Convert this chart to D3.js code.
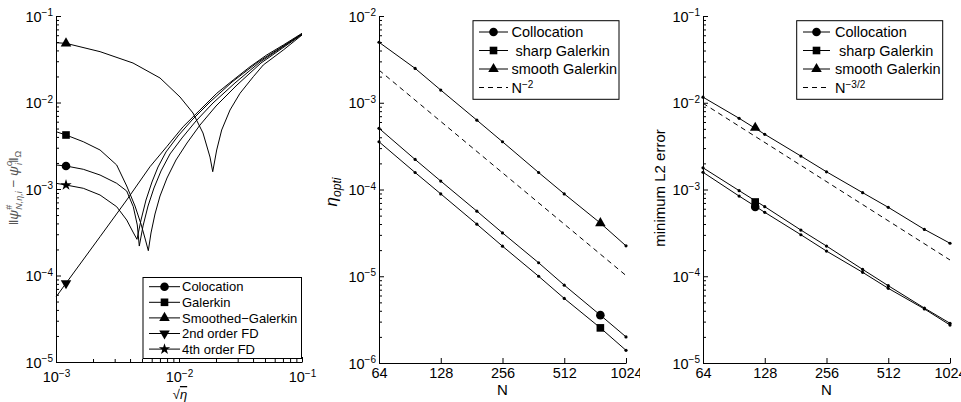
<!DOCTYPE html>
<html>
<head>
<meta charset="utf-8">
<script src="https://cdn.jsdelivr.net/npm/d3@7"></script>
<style>
    body { margin: 0; background: #fff; }
    text { font-family: "Liberation Sans", Arial, sans-serif; }
</style>
</head>
<body>
<div id="chart"></div>
<script>
"use strict";

// ---- left panel: error against sqrt(eta), pairs [sqrt(eta), error] ----
const colocation = [[1.0e-3, 1.895e-3], [1.206e-3, 1.845e-3], [1.667e-3, 1.69e-3], [2.281e-3, 1.451e-3],
    [3.114e-3, 1.164e-3], [3.757e-3, 9.48e-4], [4.25e-3, 6.24e-4], [4.58e-3, 3.84e-4], [4.755e-3, 2.19e-4],
    [5.10e-3, 3.74e-4], [5.60e-3, 6.36e-4], [6.26e-3, 1.027e-3], [7.14e-3, 1.615e-3], [8.45e-3, 2.54e-3],
    [1.058e-2, 3.89e-3], [1.374e-2, 6.11e-3], [1.89e-2, 9.87e-3], [2.85e-2, 1.68e-2], [4.56e-2, 2.94e-2],
    [0.1, 6.19e-2]];
const galerkin = [[1.0e-3, 4.60e-3], [1.206e-3, 4.21e-3], [1.667e-3, 3.52e-3], [2.281e-3, 2.825e-3],
    [3.114e-3, 1.895e-3], [3.757e-3, 1.083e-3], [4.387e-3, 6.36e-4], [4.91e-3, 3.94e-4], [5.34e-3, 2.57e-4],
    [5.63e-3, 1.935e-4], [5.92e-3, 3.10e-4], [6.38e-3, 5.14e-4], [7.01e-3, 8.30e-4], [7.99e-3, 1.34e-3],
    [9.45e-3, 2.164e-3], [1.161e-2, 3.40e-3], [1.482e-2, 5.49e-3], [2.0e-2, 9.11e-3], [2.96e-2, 1.593e-2],
    [4.64e-2, 2.86e-2], [0.1, 6.11e-2]];
const smoothed = [[1.0e-3, 4.91e-2], [1.206e-3, 4.83e-2], [2.281e-3, 3.87e-2], [4.227e-3, 2.86e-2],
    [7.01e-3, 1.92e-2], [1.019e-2, 1.158e-2], [1.30e-2, 7.56e-3], [1.567e-2, 4.44e-3], [1.787e-2, 2.34e-3],
    [1.88e-2, 1.585e-3], [2.025e-2, 2.825e-3], [2.223e-2, 4.81e-3], [2.598e-2, 8.19e-3], [3.133e-2, 1.278e-2],
    [4.018e-2, 1.987e-2], [4.844e-2, 2.714e-2], [7.05e-2, 4.045e-2], [0.1, 6.03e-2]];
const fd2 = [[1.0e-3, 5.64e-5], [1.206e-3, 8.13e-5], [2.281e-3, 2.81e-4], [3.757e-3, 7.46e-4],
    [5.81e-3, 1.81e-3], [7.94e-3, 3.08e-3], [1.08e-2, 5.25e-3], [1.48e-2, 8.19e-3], [2.03e-2, 1.28e-2],
    [2.76e-2, 1.82e-2], [3.78e-2, 2.59e-2], [5.16e-2, 3.54e-2], [7.05e-2, 4.62e-2], [0.1, 6.31e-2]];
const fd4 = [[1.0e-3, 1.164e-3], [1.206e-3, 1.112e-3], [1.667e-3, 1.019e-3], [2.281e-3, 8.52e-4],
    [3.114e-3, 6.24e-4], [3.757e-3, 4.38e-4], [4.227e-3, 3.18e-4], [4.555e-3, 2.62e-4], [4.91e-3, 4.38e-4],
    [5.39e-3, 7.46e-4], [6.03e-3, 1.205e-3], [6.75e-3, 1.796e-3], [7.84e-3, 2.68e-3], [9.81e-3, 4.10e-3],
    [1.275e-2, 6.27e-3], [1.787e-2, 1.013e-2], [2.70e-2, 1.726e-2], [4.39e-2, 2.94e-2], [0.1, 6.19e-2]];
const leftLabels = ["Colocation", "Galerkin", "Smoothed\u2212Galerkin", "2nd order FD", "4th order FD"];
const leftMarkerIndex = 1;

// ---- middle and right panels: values against N ----
const sizes = [64, 96, 128, 192, 256, 384, 512, 768, 1024];
const sizeTicks = [64, 128, 256, 512, 1024];

const etaColloc = [5.07e-4, 2.22e-4, 1.25e-4, 5.63e-5, 3.16e-5, 1.43e-5, 7.9e-6, 3.56e-6, 2.0e-6];
const etaSharp = [3.55e-4, 1.57e-4, 8.9e-5, 3.98e-5, 2.22e-5, 1.0e-5, 5.55e-6, 2.54e-6, 1.4e-6];
const etaSmooth = [4.98e-3, 2.49e-3, 1.40e-3, 6.3e-4, 3.55e-4, 1.57e-4, 8.9e-5, 4.1e-5, 2.24e-5];
const etaRefN = [64, 1024];
const etaRef = [2.38e-3, 1.02e-5];
const etaMarkerN = 768;
const etaMarkers = [3.56e-6, 2.54e-6, 4.1e-5];

const errColloc = [1.58e-3, 8.4e-4, 5.46e-4, 3.01e-4, 1.95e-4, 1.11e-4, 7.26e-5, 4.2e-5, 2.74e-5];
const errSharp = [1.78e-3, 9.7e-4, 6.34e-4, 3.41e-4, 2.23e-4, 1.2e-4, 7.78e-5, 4.3e-5, 2.87e-5];
const errSmooth = [1.16e-2, 6.62e-3, 4.33e-3, 2.43e-3, 1.6e-3, 9.2e-4, 6.23e-4, 3.47e-4, 2.4e-4];
const errRefN = [64, 1024];
const errRef = [9.86e-3, 1.54e-4];
const errMarkerN = 115;
const errMarkers = [6.3e-4, 7.18e-4, 5.15e-3];

const convLabels = ["Collocation", " sharp Galerkin", "smooth Galerkin"];

// marker shapes: circle, square, triangle, triangle down, star
const shapes = [
    { type: d3.symbolCircle, size: 58, rot: 0 },
    { type: d3.symbolSquare, size: 58, rot: 0 },
    { type: d3.symbolTriangle, size: 48, rot: 0 },
    { type: d3.symbolTriangle, size: 48, rot: 180 },
    { type: d3.symbolStar, size: 40, rot: 0 }
];

function drawMarker(g, shape, cx, cy)
{
    g.append("path")
        .attr("d", d3.symbol().type(shape.type).size(shape.size)())
        .attr("transform", `translate(${cx},${cy}) rotate(${shape.rot})`)
        .attr("fill", "#000");
}

function powerLabel(textSel, exp, supSize)
{
    textSel.text(null);
    textSel.append("tspan").text("10");
    textSel.append("tspan")
        .attr("dy", "-0.55em")
        .style("font-size", supSize + "px")
        .text("\u2212" + exp);
}

function decades(lo, hi)
{
    const out = [];
    for (let k = lo; k <= hi; k++) out.push(Math.pow(10, k));
    return out;
}

function minorTicks(lo, hi)
{
    const out = [];
    for (let k = lo; k < hi; k++) {
        for (let m = 2; m <= 9; m++) out.push(m * Math.pow(10, k));
    }
    return out;
}

function logYAxis(g, y, x0, lo, hi)
{
    g.append("g")
        .attr("transform", `translate(${x0},0)`)
        .call(d3.axisLeft(y).tickValues(minorTicks(lo, hi)).tickSize(-3).tickSizeOuter(0).tickFormat(""))
        .call(a => a.select(".domain").remove());

    g.append("g")
        .attr("transform", `translate(${x0},0)`)
        .call(d3.axisLeft(y).tickValues(decades(lo, hi)).tickSize(-5).tickSizeOuter(0).tickPadding(3))
        .attr("font-size", null).attr("font-family", null)
        .call(a => a.selectAll(".tick text")
            .style("font-size", "14.5px")
            .attr("dy", "0.36em")
            .each(function (d) { powerLabel(d3.select(this), -Math.round(Math.log10(d)), 10); }));
}

function drawLeft(panel)
{
    const x = d3.scaleLog().domain([1e-3, 1e-1]).range([56, 302]);
    const y = d3.scaleLog().domain([1e-5, 1e-1]).range([362, 16]);
    const g = panel.append("g");

    // x axis
    g.append("g")
        .attr("transform", "translate(0,362)")
        .call(d3.axisBottom(x).tickValues(minorTicks(-3, -1)).tickSize(-3).tickSizeOuter(0).tickFormat(""))
        .call(a => a.select(".domain").remove());
    g.append("g")
        .attr("transform", "translate(0,362)")
        .call(d3.axisBottom(x).tickValues(decades(-3, -1)).tickSize(-5).tickSizeOuter(0).tickPadding(10))
        .attr("font-size", null).attr("font-family", null)
        .call(a => a.selectAll(".tick text")
            .style("font-size", "14.5px")
            .each(function (d) { powerLabel(d3.select(this), -Math.round(Math.log10(d)), 10); }));

    logYAxis(g, y, 56, -5, -1);

    const line = d3.line().x(d => x(d[0])).y(d => y(d[1]));
    const series = [colocation, galerkin, smoothed, fd2, fd4];

    g.selectAll(".curve")
        .data(series)
        .enter()
        .append("path")
        .attr("class", "curve")
        .attr("d", line)
        .attr("fill", "none")
        .attr("stroke", "#000")
        .attr("stroke-width", 1);

    series.forEach((s, i) => {
        const p = s[leftMarkerIndex];
        drawMarker(g, shapes[i], x(p[0]), y(p[1]));
    });

    // legend
    const lg = g.append("g").attr("id", "legend-left");
    lg.append("rect")
        .attr("x", 143).attr("y", 277.5).attr("width", 158.5).attr("height", 81)
        .attr("fill", "#fff").attr("stroke", "#000").attr("stroke-width", 1);
    leftLabels.forEach((label, i) => {
        const ly = 286.7 + i * 15.6;
        lg.append("line")
            .attr("x1", 149).attr("x2", 180).attr("y1", ly).attr("y2", ly)
            .attr("stroke", "#000");
        drawMarker(lg, shapes[i], 164.5, ly);
        lg.append("text")
            .attr("x", 182).attr("y", ly).attr("dy", "0.36em")
            .style("font-size", "13px")
            .text(label);
    });

    // axis labels
    const xl = g.append("text")
        .attr("x", 180).attr("y", 399)
        .attr("text-anchor", "middle")
        .style("font-size", "13px");
    xl.append("tspan").text("\u221A");
    xl.append("tspan").style("font-style", "italic").style("text-decoration", "overline").text("\u03B7");

    const yl = g.append("text")
        .attr("transform", "translate(18,188) rotate(-90)")
        .attr("text-anchor", "middle")
        .attr("fill", "#555")
        .style("font-size", "13.5px");
    yl.append("tspan").text("\u2016");
    yl.append("tspan").style("font-style", "italic").text("\u03C8");
    yl.append("tspan").attr("dy", -6).style("font-size", "9px").text("#");
    yl.append("tspan").attr("dx", -5).attr("dy", 10).style("font-size", "9px").style("font-style", "italic").text("N,\u03B7,i");
    yl.append("tspan").attr("dy", -4).text("  \u2212  ");
    yl.append("tspan").style("font-style", "italic").text("\u03C8");
    yl.append("tspan").attr("dy", -6).style("font-size", "9px").style("font-style", "italic").text("o");
    yl.append("tspan").attr("dx", -4).attr("dy", 10).style("font-size", "9px").style("font-style", "italic").text("i");
    yl.append("tspan").attr("dy", -4).text("\u2016");
    yl.append("tspan").attr("dy", 3).style("font-size", "9px").text("\u03A9");
}

function drawConvergence(panel, opts)
{
    const x = d3.scaleLog().base(2).domain([64, 1024]).range(opts.xRange);
    const y = d3.scaleLog().domain([Math.pow(10, opts.lo), Math.pow(10, opts.hi)]).range([363, 16]);
    const g = panel.append("g");

    g.append("g")
        .attr("transform", "translate(0,363)")
        .call(d3.axisBottom(x).tickValues(sizeTicks).tickSize(-5).tickSizeOuter(0).tickPadding(5).tickFormat(d3.format("d")))
        .attr("font-size", null).attr("font-family", null)
        .call(a => a.selectAll(".tick text").style("font-size", "14.5px"));

    logYAxis(g, y, opts.xRange[0], opts.lo, opts.hi);

    const line = d3.line().x(d => x(d[0])).y(d => y(d[1]));

    // dashed reference slope
    g.append("path")
        .attr("d", line(opts.refN.map((n, i) => [n, opts.ref[i]])))
        .attr("fill", "none")
        .attr("stroke", "#000")
        .attr("stroke-dasharray", "5,4");

    opts.series.forEach((vals, i) => {
        const pts = sizes.map((n, j) => [n, vals[j]]);
        g.append("path")
            .attr("d", line(pts))
            .attr("fill", "none")
            .attr("stroke", "#000");
        g.selectAll(".dot" + i)
            .data(pts)
            .enter()
            .append("circle")
            .attr("class", "dot" + i)
            .attr("r", 1.6)
            .attr("cx", d => x(d[0]))
            .attr("cy", d => y(d[1]))
            .attr("fill", "#000");
        drawMarker(g, shapes[i], x(opts.markerN), y(opts.markers[i]));
    });

    // legend
    const L = opts.legend;
    const lg = g.append("g");
    lg.append("rect")
        .attr("x", L.x).attr("y", 20.7).attr("width", L.w).attr("height", 78.6)
        .attr("fill", "#fff").attr("stroke", "#000");
    convLabels.concat([null]).forEach((label, i) => {
        const ly = 32 + i * 18.5;
        lg.append("line")
            .attr("x1", L.x1).attr("x2", L.x2).attr("y1", ly).attr("y2", ly)
            .attr("stroke", "#000")
            .attr("stroke-dasharray", label === null ? "5,4" : null);
        const t = lg.append("text")
            .attr("x", L.tx).attr("y", ly).attr("dy", "0.36em")
            .style("font-size", "14.5px")
            .style("white-space", "pre");
        if (label === null) {
            t.append("tspan").text("N");
            t.append("tspan").attr("dy", "-0.5em").style("font-size", "10px").text(opts.refLabel);
        } else {
            drawMarker(lg, shapes[i], (L.x1 + L.x2) / 2, ly);
            t.text(label);
        }
    });

    g.append("text")
        .attr("x", (opts.xRange[0] + opts.xRange[1]) / 2).attr("y", 395)
        .attr("text-anchor", "middle")
        .style("font-size", "15px")
        .text("N");

    const yl = g.append("text")
        .attr("transform", `translate(${opts.yLabelX},${opts.yLabelY}) rotate(-90)`)
        .attr("text-anchor", "middle")
        .style("font-size", "15px");
    opts.yLabel(yl);
}

function mainIndex()
{
    const svg = d3.select("#chart")
        .append("svg")
        .attr("width", 961)
        .attr("height", 402);

    drawLeft(svg.append("svg").attr("x", 0).attr("y", 0).attr("width", 320).attr("height", 402));

    drawConvergence(svg.append("svg").attr("x", 320).attr("y", 0).attr("width", 320).attr("height", 402), {
        xRange: [59, 306], lo: -6, hi: -2,
        series: [etaColloc, etaSharp, etaSmooth],
        refN: etaRefN, ref: etaRef, refLabel: "\u22122",
        markerN: etaMarkerN, markers: etaMarkers,
        legend: { x: 153, w: 146, x1: 159, x2: 188, tx: 191.5 },
        yLabelX: 17, yLabelY: 192,
        yLabel: t => {
            t.append("tspan").style("font-style", "italic").style("font-size", "17px").text("\u03B7");
            t.append("tspan").attr("dy", 4).style("font-size", "12px").style("font-style", "italic").text("opti");
        }
    });

    drawConvergence(svg.append("svg").attr("x", 640).attr("y", 0).attr("width", 321).attr("height", 402), {
        xRange: [63, 310], lo: -5, hi: -1,
        series: [errColloc, errSharp, errSmooth],
        refN: errRefN, ref: errRef, refLabel: "\u22123/2",
        markerN: errMarkerN, markers: errMarkers,
        legend: { x: 156.7, w: 146, x1: 163, x2: 190, tx: 195 },
        yLabelX: 25, yLabelY: 188,
        yLabel: t => t.text("minimum L2 error")
    });
}

document.addEventListener("DOMContentLoaded", mainIndex);
</script>
</body>
</html>
